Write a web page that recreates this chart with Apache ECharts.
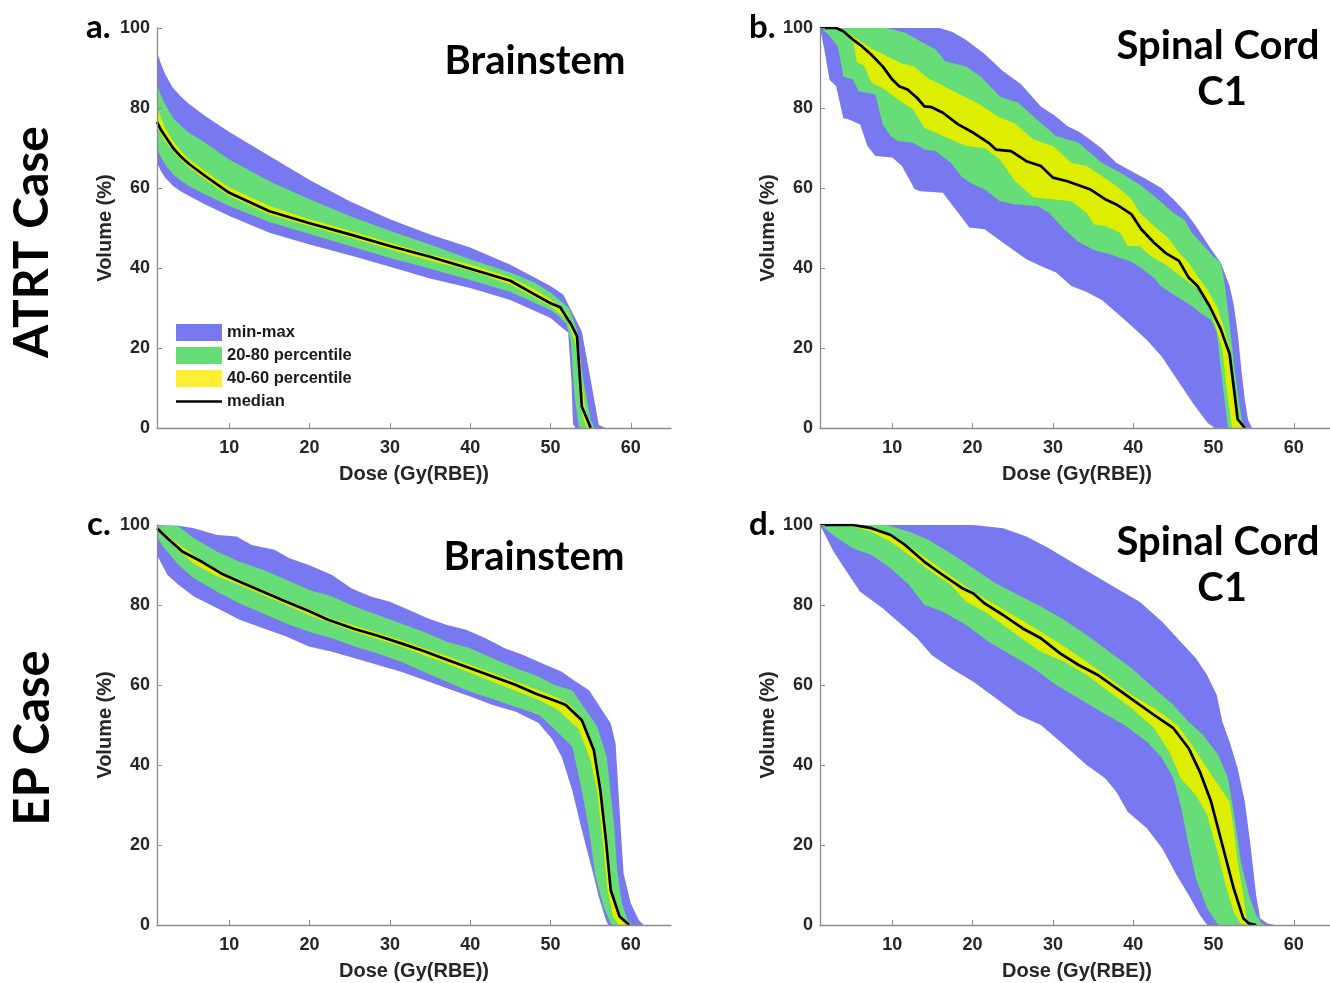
<!DOCTYPE html>
<html>
<head>
<meta charset="utf-8">
<title>DVH percentile bands</title>
<script src="https://cdn.jsdelivr.net/npm/echarts@6.0.0/dist/echarts.min.js"></script>
<style>
  html, body { margin: 0; padding: 0; background: #fff; }
  #main { width: 1330px; height: 983px; }
</style>
</head>
<body>
<div id="main"></div>
<script>
// axis ticks shared by the four panels
var doseTicks = [10, 20, 30, 40, 50, 60];
var doseRange = [1, 65];
var volumeRange = [0, 100];

// a. ATRT case, brainstem  ([dose Gy(RBE), volume %])
var aMax = [[1,94],[1.5,91],[2,88.5],[3,85],[4,82.8],[5,81],[7,78],[10,74],[15,68],[20,62],[25,56.7],[30,52.2],[35,48.4],[40,45.1],[45,40.8],[50,35.5],[51.6,33.3],[53.9,24.1],[55,12],[56,0.8],[56.8,0]];
var aP80 = [[1,86],[1.5,83.2],[2,81],[3,77.5],[4,75.5],[5,73.8],[7,71.3],[10,67.1],[15,61.7],[20,57.2],[25,53],[30,49.3],[35,45.9],[40,42.2],[45,38.9],[48,36.4],[50,33.9],[52.3,30],[53.3,24.5],[54,13],[55,2],[55.5,0]];
var aP60 = [[1,80.4],[1.5,77.5],[2,75],[3,71.7],[4,69.2],[5,67.1],[7,64.2],[10,60.1],[15,55.5],[20,52.2],[25,49.3],[30,46.3],[35,43.4],[40,40.9],[45,37.6],[48,34.6],[50,32.2],[52,28.9],[53,25],[53.5,22],[54,10],[54.5,2],[55,0]];
var aP40 = [[1,75.5],[1.5,73.4],[2,71.7],[3,69.2],[4,67],[5,65.1],[7,62.1],[10,58],[15,53.4],[20,50.5],[25,47.6],[30,44.7],[35,41.8],[40,39.3],[45,35.9],[48,32.6],[50,30.5],[52,27.2],[53,22],[53.3,19],[53.5,13],[54,3],[54.5,0]];
var aP20 = [[1,70],[1.5,67.7],[2,65.9],[3,63.4],[4,61.8],[5,60.5],[7,58.4],[10,55.5],[15,51.5],[20,48.5],[25,45.5],[30,42.5],[35,39.8],[40,37],[45,34],[50,29.5],[51,28],[52,26],[52.5,22],[53,8],[53.5,0.6],[53.7,0]];
var aMin = [[1,66.3],[1.5,64.2],[2,62.6],[3,60.5],[4,59.1],[5,58],[7,55.9],[10,53],[15,48.8],[20,45.9],[25,43.2],[30,40.3],[35,37.4],[40,35],[45,32],[50,27.5],[51.2,25.5],[52.2,23.8],[52.6,12],[52.8,1],[53.1,0]];
var aMed = [[1,76.5],[1.5,74.5],[2,73],[3,70],[4,67.8],[5,66],[7,63],[10,58.8],[15,54.2],[20,51.2],[25,48.4],[30,45.5],[35,42.8],[40,39.8],[45,36.8],[48,33.4],[50,31.2],[51.2,30.2],[52.6,25.8],[53.3,22.9],[53.9,5.4],[55,0]];

// b. ATRT case, spinal cord C1
var bMax = [[1,100],[15.9,100],[17.5,99],[19.2,97],[21.5,93.5],[23.8,89.2],[26,86],[28.5,80.4],[30.3,78],[31.8,75.5],[33.3,74],[34.6,72.1],[36,70],[37.9,66.3],[39.5,64.5],[41.7,62.1],[43.5,60],[45,57.2],[46.5,54],[47.8,50.5],[49.7,44.7],[50.9,41.3],[52,35.5],[52.5,31],[53,24],[53.5,14],[53.9,7],[54.3,2],[54.8,0]];
var bP80 = [[1,100],[9.3,100],[11.6,98.8],[13.5,96.7],[15.4,94.6],[16.6,91.7],[19.2,90.4],[21,87.9],[23.4,82.9],[25.7,81.3],[28,77.1],[30.4,73],[33.2,71.3],[36.1,66.3],[38.4,63.8],[40.8,60.9],[42.6,58],[45,53.8],[46.4,52],[47.3,48.8],[48.5,46.2],[49.9,43],[50.9,41.3],[51.4,36],[52,26],[52.6,15],[53.2,6],[53.6,1.5],[54.1,0]];
var bP60 = [[1,100],[3.6,100],[5.7,97.1],[7.3,95],[9.4,92.9],[11.1,91.2],[12.7,90.4],[14.4,87.5],[16.5,85.4],[18.5,83.3],[21,80.8],[23.1,77.9],[25.2,76.2],[27.6,72.1],[30,70.5],[32.3,66.3],[34.2,65.5],[36.1,63],[37.9,60.5],[39.8,57.2],[40.8,53.8],[42.6,50.5],[44.5,47.2],[45.7,43.8],[46.9,41.3],[48,38],[49.2,34.7],[50.4,30.5],[51.3,25],[52,20],[52.6,10],[53.1,3],[53.6,0.8],[54,0]];
var bP40 = [[1,100],[3,100],[4.5,98],[5.2,96],[5.6,91.5],[6.5,90.5],[7.4,86.3],[8.8,85],[10.7,82.1],[12.6,79.6],[14,75],[15.4,73.8],[17.3,72.1],[19.2,70.5],[21.5,70],[23.4,67.1],[25.3,61.7],[27.6,57.6],[30,57.2],[32.3,56.7],[34.2,53.8],[35.1,50.9],[36.5,50.5],[38.4,48.8],[39.3,45.5],[40.8,45.5],[42.2,43],[44,40.9],[45.9,38],[47.3,35.9],[48.7,33.9],[50.1,26.5],[51.1,19.7],[51.8,7.2],[52.3,0]];
var bP20 = [[1,100],[2,98.5],[3.2,95.4],[3.7,90.4],[3.9,87.9],[5.1,87.1],[5.8,84.2],[7.9,83.4],[8.8,75.9],[9.8,73],[10.7,71.7],[12.6,71.3],[14,69.6],[15.4,69.2],[17.3,66.3],[18.7,62.6],[20.1,60.9],[21.5,59.7],[23.4,56.7],[25.3,55.9],[28.1,55.5],[29.5,53.8],[31.4,49.7],[33.2,46.5],[35.1,44.5],[37,43.5],[39.8,41.5],[41,40],[42.6,37.5],[43.5,35.4],[45,33.4],[47.3,30.5],[48.4,28.7],[49.7,27],[50.4,23.9],[51.1,11.4],[51.8,0]];
var bMin = [[1,100],[1.5,95],[2.2,87],[3,85.5],[3.9,77.5],[4.6,77.1],[6,75.9],[6.9,70.5],[7.9,68],[10,67.6],[11.2,65.5],[12.8,59.7],[13.5,59.2],[16.3,58.8],[18.2,53.8],[19.6,50.1],[21.5,49.7],[23.8,46.3],[26.7,42.2],[28.5,40.5],[30.4,38.9],[32.3,35.5],[34.2,34],[36.1,32],[37.9,28.9],[39.8,25.5],[41.7,22],[43.5,18],[45.5,12],[47.5,6],[49.3,1.2],[50.2,0]];
var bMed = [[1,100],[3,100],[3.9,99.2],[5.1,97.1],[6,95.8],[7.4,93.3],[8.8,90.4],[10,87.1],[10.9,85.4],[11.9,84.6],[13.1,82.5],[14,80.4],[14.9,80.2],[16.3,78.8],[18.2,75.9],[20.1,73.8],[22,71.3],[22.9,69.6],[24.8,69.2],[26.7,66.7],[28.5,65.5],[30,62.6],[31.8,61.7],[34.6,59.7],[36.5,57.2],[37.9,55.9],[39.8,53.4],[41,49.7],[42.6,46.3],[44,43.8],[45.7,41.8],[46.9,37.6],[48,35.5],[49.5,30.5],[50.9,24.7],[52,18.5],[52.7,7.2],[53,2.2],[53.9,0]];

// c. EP case, brainstem
var cMax = [[1,100],[3.7,99.8],[5.6,99.2],[8.5,97.5],[10.9,97.1],[12.8,95],[15.6,93.8],[17.5,91.7],[19.9,90],[22.8,87.5],[25.2,84.2],[27.6,82.1],[30,80.8],[32.3,78.8],[34.7,76.7],[37.1,75],[39.5,73.8],[41.9,71.7],[44.3,69.2],[46.6,67.5],[49,65.4],[51.4,63.3],[52.8,61.3],[54.8,58.7],[57.5,50.4],[58.1,45.4],[58.7,25.4],[59.1,12.9],[60,5.4],[61,1.2],[61.6,0]];
var cP80 = [[1,100],[3.7,99.6],[5.6,96.7],[8.5,93.3],[11.3,90.8],[14.2,88.8],[17.1,86.3],[19.9,83.8],[22.8,82.1],[25.6,79.6],[28.5,77.5],[31.4,75.4],[34.2,73.3],[37.1,70.8],[40,69.2],[42.8,66.7],[45.7,64.2],[48.5,62.1],[50.5,60],[52.7,58.7],[55.8,49.6],[57,42],[57.9,25.4],[58.3,13.7],[58.9,5.4],[59.6,1.2],[60.2,0]];
var cP60 = [[1,99.6],[3.2,95.8],[5.6,92.5],[8.5,88.8],[11.3,86.3],[14.2,83.8],[17.1,81.3],[19.9,79],[22.8,76.5],[25.6,74.8],[28.5,73],[31.4,71.2],[34.2,69.2],[37.1,67.2],[40,65],[42.8,63],[45.7,60.8],[48.5,58.7],[50.9,56.8],[52.4,55],[54.1,51],[55.6,43.7],[56.4,33.7],[57.1,21.2],[57.7,8.7],[58.7,2.2],[59.9,0]];
var cP40 = [[1,99],[3.2,94.5],[5.6,90.3],[8.5,87.1],[11.3,85],[14.2,82.5],[17.1,80],[19.9,77.5],[22.8,75.4],[25.6,73.3],[28.5,71.5],[31.4,69.6],[34.2,67.5],[37.1,65.4],[40,63],[42.8,60.8],[45.7,58.5],[48.5,56.3],[50.9,53.8],[53.5,49],[55,41],[55.8,33.7],[56.5,21.2],[57.1,8.7],[57.8,2],[58.5,0]];
var cP20 = [[1,97],[1.6,95],[3.7,90],[5.6,86.7],[8.5,83.3],[11.3,80.4],[14.2,77.9],[17.1,75.4],[19.9,73.3],[22.8,71.7],[25.6,69.6],[28.5,67.9],[31.4,65.8],[34.2,63.3],[37.1,60.8],[40,58.3],[42.8,56.5],[45.7,54.5],[48.6,52.5],[50.2,49.5],[52.7,44.6],[53.9,33.7],[54.8,23.7],[55.6,12.1],[56.6,4.6],[57.5,0.4],[57.8,0]];
var cMin = [[1,92.5],[2.3,87.5],[3.7,85],[5.6,82.1],[8.5,79.2],[11.3,76.3],[14.2,74.2],[17.1,72.1],[19.9,69.6],[22.8,68.3],[25.6,66.7],[28.5,65],[31.4,63.3],[34.2,61.3],[37.1,59.2],[40,57.1],[42.8,55],[45.7,53.3],[48.5,50.5],[50.2,46.5],[51.4,42],[52.7,33.7],[53.9,23.7],[55.2,13.7],[56,7.1],[56.9,1.2],[57.2,0]];
var cMed = [[1,99.2],[2.3,96.7],[4.2,93.3],[6.6,90.8],[9,87.9],[11.3,85.8],[14.2,83.3],[17.1,80.8],[19.9,78.5],[22.3,76.3],[25.6,74],[28.5,72.3],[31.4,70.4],[34.2,68.5],[37.1,66.3],[40,64.2],[42.8,62.1],[45.7,60],[48.1,57.9],[50.9,55.8],[51.9,55],[53.9,51.2],[55.4,43.7],[56.2,33.7],[56.9,21.2],[57.5,8.7],[58.6,2.1],[59.8,0]];

// d. EP case, spinal cord C1
var dMax = [[1,100],[20.1,100],[23.8,99.2],[26.7,97.1],[29.5,94.2],[32.3,90.8],[35.1,87.5],[37.9,84.2],[40.8,80.8],[43.6,75.8],[45.9,70.8],[47.8,66.7],[49.2,62.5],[50.4,57.5],[51.1,50.8],[52,45.8],[53,39.2],[53.9,30.8],[54.6,20],[55.3,7.5],[55.8,1.7],[56.7,0.4],[57.7,0]];
var dP80 = [[1,100],[9.3,100],[12.1,98.3],[14.5,96.3],[17.3,92.9],[20.1,89.2],[22.9,85.4],[25.7,82.5],[28.5,79.6],[31.4,76.3],[34.2,72.5],[37,68.3],[39.8,64.2],[42.6,59.2],[45,55],[46.9,50.8],[48.7,47.5],[50.6,42.5],[51.8,36.7],[52.5,28.3],[53.4,15.8],[54.4,7.5],[55.3,2.5],[56,0.4],[56.5,0]];
var dP60 = [[1,100],[6,100],[8.8,98.3],[10.7,96.7],[13.1,93.3],[15.4,90],[17.7,86.7],[20.1,83.3],[22.9,80],[25.7,76.7],[28.5,73.3],[31.4,69.6],[34.2,65.8],[37,61.7],[39.8,57.5],[42.6,54.2],[45.5,50],[47.3,45],[49.2,39.2],[50.6,35],[52,30.8],[52.5,24.2],[53,15.8],[53.7,7.5],[54.1,1.7],[54.6,0]];
var dP40 = [[1,100],[5.1,99.6],[7.4,98.3],[9.8,95.8],[12.1,92.5],[14.5,88.8],[17.3,85],[19.2,80.8],[21.5,78.3],[23.8,75],[26.7,70.8],[28.5,68.3],[31.4,65.8],[34.2,62.5],[37,58.3],[39.8,54.2],[42.6,49.2],[44.5,43.3],[45.9,36.7],[47.8,32.5],[49.2,27.5],[50.6,17.5],[51.5,10],[52.5,3.3],[53.4,0.4],[53.9,0]];
var dP20 = [[1,100],[3.2,96.7],[5.1,94.2],[7.4,92.5],[9.8,89.2],[12.1,85],[14,80],[16.3,78.3],[19.2,75],[22,70.8],[24.8,67.5],[27.6,64.2],[30.4,60],[33.2,56.7],[36,53.3],[38.9,50],[41.7,45.8],[43.6,41.7],[45,36.7],[45.9,30],[46.9,20],[47.8,11.7],[49.2,4.2],[50.6,0]];
var dMin = [[1,100],[2.7,93.3],[4.6,87.5],[6,83.3],[8.8,79.2],[11.2,75],[13.1,71.7],[14.9,67.5],[17.3,64.2],[20.1,60.8],[22.9,56.7],[25.7,52.5],[28.5,50],[31.4,45],[34.2,40],[36.5,36.7],[37.9,33.3],[39.3,28.3],[41.7,24.2],[43.6,19.2],[45.4,12.5],[46.9,7.5],[48.3,2.5],[49.2,0]];
var dMed = [[1,100],[5.1,100],[7.4,99.2],[9.8,97.5],[11.6,95],[14,90.8],[16.3,87.5],[18.7,84.2],[20.1,82.9],[21.5,80.4],[23.8,77.5],[26.2,74.2],[28.5,71.7],[30.9,67.9],[33.2,65],[35.6,62.5],[37.9,59.2],[40.3,55.8],[42.6,52.5],[45,49.2],[46.9,44.2],[48.3,38.3],[49.7,30.8],[51.1,20],[52.5,9.2],[53.7,1.7],[54.4,0.4],[55.3,0]];

var BLUE = '#7878F0', GREEN = '#66DD77', YELLOW = '#DDEE00', LEGEND_YELLOW = '#FFEE33';
var TEXT = '#262626';

var panels = [
  { left: 157, top: 28, bands: [aMax, aP80, aP60, aP40, aP20, aMin], median: aMed },
  { left: 820, top: 28, bands: [bMax, bP80, bP60, bP40, bP20, bMin], median: bMed },
  { left: 157, top: 525, bands: [cMax, cP80, cP60, cP40, cP20, cMin], median: cMed },
  { left: 820, top: 525, bands: [dMax, dP80, dP60, dP40, dP20, dMin], median: dMed }
];

// each curve is filled down to 0, drawn from the top curve down, so the
// visible strips between curves become the bands
var bandNames = ['min-max', '20-80 percentile', '40-60 percentile', '20-80 percentile', 'min-max', 'below min'];
var bandColors = [BLUE, GREEN, YELLOW, GREEN, BLUE, '#FFFFFF'];

var tickFont = { color: TEXT, fontSize: 18, fontWeight: 'bold', fontFamily: 'Liberation Sans' };
var nameFont = { color: TEXT, fontSize: 20, fontWeight: 'bold', fontFamily: 'Liberation Sans' };
var axisLine = { show: true, lineStyle: { color: '#8c8c8c', width: 1.3 } };

var grids = [], xAxes = [], yAxes = [], series = [];

panels.forEach(function (p, i) {
  grids.push({ left: p.left, top: p.top, width: 514, height: 400, outerBoundsMode: 'none', containLabel: false });
  xAxes.push({
    type: 'value', gridIndex: i, min: doseRange[0], max: doseRange[1], z: 10,
    name: 'Dose (Gy(RBE))', nameLocation: 'middle', nameGap: 36, nameTextStyle: nameFont,
    axisLine: axisLine,
    axisTick: { show: true, inside: true, length: 5, lineStyle: { color: '#8c8c8c' }, customValues: doseTicks },
    axisLabel: Object.assign({ margin: 11, customValues: doseTicks }, tickFont),
    splitLine: { show: false }
  });
  yAxes.push({
    type: 'value', gridIndex: i, min: volumeRange[0], max: volumeRange[1], interval: 20, z: 10,
    name: 'Volume (%)', nameLocation: 'middle', nameGap: 42, nameRotate: 90, nameTextStyle: nameFont,
    axisLine: axisLine,
    axisTick: { show: true, inside: true, length: 5, lineStyle: { color: '#8c8c8c' } },
    axisLabel: Object.assign({ margin: 7 }, tickFont),
    splitLine: { show: false }
  });
  p.bands.forEach(function (curve, k) {
    series.push({
      type: 'line', name: bandNames[k], xAxisIndex: i, yAxisIndex: i,
      data: curve, color: bandColors[k], symbol: 'none', silent: true,
      lineStyle: { width: 0 },
      areaStyle: { color: bandColors[k], opacity: 1 },
      emphasis: { disabled: true }, z: 2
    });
  });
  series.push({
    type: 'line', name: 'median', xAxisIndex: i, yAxisIndex: i,
    data: p.median, color: '#000', symbol: 'none', silent: true,
    lineStyle: { width: 2.7, color: '#000', join: 'round' },
    emphasis: { disabled: true }, z: 3
  });
});

function txt(str, x, y, size, align, rot) {
  return {
    type: 'text', x: x, y: y, rotation: rot || 0, silent: true,
    style: {
      text: str, fill: '#000', font: 'bold ' + size + 'px Lato',
      textAlign: align || 'left', textVerticalAlign: 'middle'
    }
  };
}

var graphics = [
  txt('a.', 86, 27, 33), txt('b.', 749, 27, 33),
  txt('c.', 87, 524, 33), txt('d.', 749, 524, 33),
  txt('Brainstem', 535, 61, 40, 'center'),
  txt('Brainstem', 534, 557, 40, 'center'),
  txt('Spinal Cord', 1218, 46, 40, 'center'),
  txt('C1', 1222, 92, 40, 'center'),
  txt('Spinal Cord', 1218, 542, 40, 'center'),
  txt('C1', 1222, 588, 40, 'center'),
  txt('ATRT Case', 33, 242, 48, 'center', Math.PI / 2),
  txt('EP Case', 33, 738, 49, 'center', Math.PI / 2)
];

var chart = echarts.init(document.getElementById('main'), null, { renderer: 'canvas' });
chart.setOption({
  backgroundColor: '#ffffff',
  animation: false,
  grid: grids,
  xAxis: xAxes,
  yAxis: yAxes,
  legend: {
    left: 176, top: 324, orient: 'vertical', selectedMode: false, padding: 0,
    itemWidth: 46, itemHeight: 17, itemGap: 6,
    itemStyle: { borderWidth: 0 },
    textStyle: { color: '#1a1a1a', fontSize: 16.5, fontWeight: 'bold', fontFamily: 'Liberation Sans' },
    data: [
      { name: 'min-max', icon: 'rect' },
      { name: '20-80 percentile', icon: 'rect' },
      { name: '40-60 percentile', icon: 'rect', itemStyle: { color: LEGEND_YELLOW } },
      { name: 'median', icon: 'path://M0,0 L46,0 L46,2.7 L0,2.7 Z' }
    ]
  },
  graphic: graphics,
  series: series
});
</script>
</body>
</html>
